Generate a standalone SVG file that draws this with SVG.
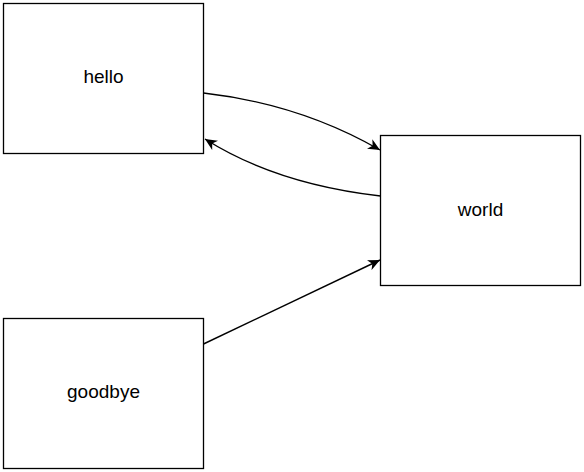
<svg xmlns="http://www.w3.org/2000/svg" width="584" height="472" viewBox="0 0 584 472">
<style>
.box{fill:#fff;stroke:#000;stroke-width:1.3}
.lbl{font-family:"Liberation Sans",Arial,sans-serif;font-size:19px;fill:#000;text-anchor:middle;dominant-baseline:central}
.edge{fill:none;stroke:#000;stroke-width:1.4}
</style>
<defs>
<marker id="arr" markerUnits="userSpaceOnUse" markerWidth="13" markerHeight="11" viewBox="0 0 13 11" refX="12" refY="5.5" orient="auto">
<path d="M0,0 L12,5.5 L0,11 L3.5,5.5 Z" fill="#000"/>
</marker>
</defs>
<rect width="584" height="472" fill="#fff"/>
<g id="hello"><rect class="box" x="3.5" y="3.5" width="200" height="150"/><text class="lbl" x="103.5" y="76">hello</text></g>
<g id="world"><rect class="box" x="380.5" y="135.5" width="200" height="150"/><text class="lbl" x="480.5" y="209">world</text></g>
<g id="goodbye"><rect class="box" x="3.5" y="318.5" width="200" height="150"/><text class="lbl" x="103.5" y="391">goodbye</text></g>
<g id="connectors">
<path class="edge" d="M203.5,93 Q300,104 380,150" marker-end="url(#arr)"/>
<path class="edge" d="M380.5,196 Q276,184 205,139" marker-end="url(#arr)"/>
<path class="edge" d="M203.5,344 L380,260" marker-end="url(#arr)"/>
</g>
</svg>
